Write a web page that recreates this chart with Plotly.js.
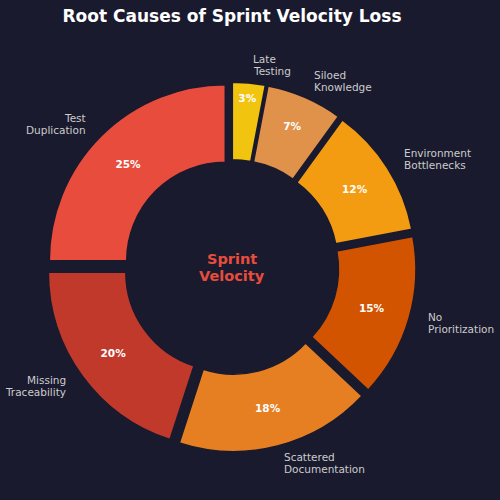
<!DOCTYPE html>
<html>
<head>
<meta charset="utf-8">
<script src="https://cdn.plot.ly/plotly-3.0.1.min.js"></script>
<style>
  html, body { margin: 0; padding: 0; background: #1a1a2e; }
  #chart { width: 500px; height: 500px; }
</style>
</head>
<body>
<div id="chart"></div>
<script>
// Data (clockwise from 12 o'clock)
const causes = [
  "Late Testing",
  "Siloed Knowledge",
  "Environment Bottlenecks",
  "No Prioritization",
  "Scattered Documentation",
  "Missing Traceability",
  "Test Duplication"
];
const shares = [3, 7, 12, 15, 18, 20, 25];
const sliceColors = ["#f1c40f", "#e0914a", "#f39c12", "#d35400", "#e67e22", "#c0392b", "#e74c3c"];
const centerLines = ["Sprint", "Velocity"];

const BG = "#1a1a2e";
const FONT = "DejaVu Sans";

// geometry of the donut in pixels (500x500 page)
const W = 500, H = 500;
const cx = 231.5, cy = 267;
const PULL = 0.05;
const R = 176;
const half = R * (1 + PULL);

// stacked lines as separate annotations so the line gap is tight
function addLines(list, lines, xp, yp, gap, opts) {
  const n = lines.length;
  lines.forEach((t, k) => {
    const y = yp + (k - (n - 1) / 2) * gap;
    list.push(Object.assign({
      x: xp / W, y: 1 - y / H, xref: "paper", yref: "paper",
      text: t, showarrow: false, yanchor: "middle"
    }, opts));
  });
}

// outside labels, placed from the cumulative shares
const total = shares.reduce((a, b) => a + b, 0);
const annotations = [];
let acc = 0;
shares.forEach((v, i) => {
  const mid = (acc + v / 2) / total * 2 * Math.PI;
  acc += v;
  const rl = R * (1.1 + PULL);
  const s = Math.sin(mid), c = Math.cos(mid);
  addLines(annotations, causes[i].split(" "), cx + rl * s, cy - rl * c, 12, {
    xanchor: s >= 0 ? "left" : "right",
    align: s >= 0 ? "left" : "right",
    font: { family: FONT, size: 10.5, color: "#cccccc" }
  });
});

// center label
addLines(annotations, centerLines, cx, cy, 17, {
  xanchor: "center", align: "center",
  font: { family: FONT, size: 14.5, color: "#e74c3c", weight: "bold" }
});

const trace = {
  type: "pie",
  labels: causes,
  values: shares,
  sort: false,
  direction: "clockwise",
  rotation: 0,
  hole: 0.56,
  pull: shares.map(() => PULL),
  marker: { colors: sliceColors, line: { color: BG, width: 1.5 } },
  texttemplate: "%{value}%",
  textposition: "inside",
  insidetextorientation: "horizontal",
  textfont: { family: FONT, size: 10.5, color: "#ffffff", weight: "bold" },
  hoverinfo: "label+percent",
  showlegend: false,
  domain: {
    x: [(cx - half) / W, (cx + half) / W],
    y: [1 - (cy + half) / H, 1 - (cy - half) / H]
  }
};

const layout = {
  width: W, height: H,
  paper_bgcolor: BG,
  plot_bgcolor: BG,
  margin: { l: 0, r: 0, t: 0, b: 0 },
  font: { family: FONT, color: "#ffffff" },
  title: {
    text: "Root Causes of Sprint Velocity Loss",
    x: 232 / W, xanchor: "center", xref: "paper",
    y: 1 - 16 / H, yanchor: "middle", yref: "container",
    font: { family: FONT, size: 17, color: "#ffffff", weight: "bold" }
  },
  annotations: annotations,
  showlegend: false
};

Plotly.newPlot("chart", [trace], layout, { displayModeBar: false, staticPlot: true });
</script>
</body>
</html>
